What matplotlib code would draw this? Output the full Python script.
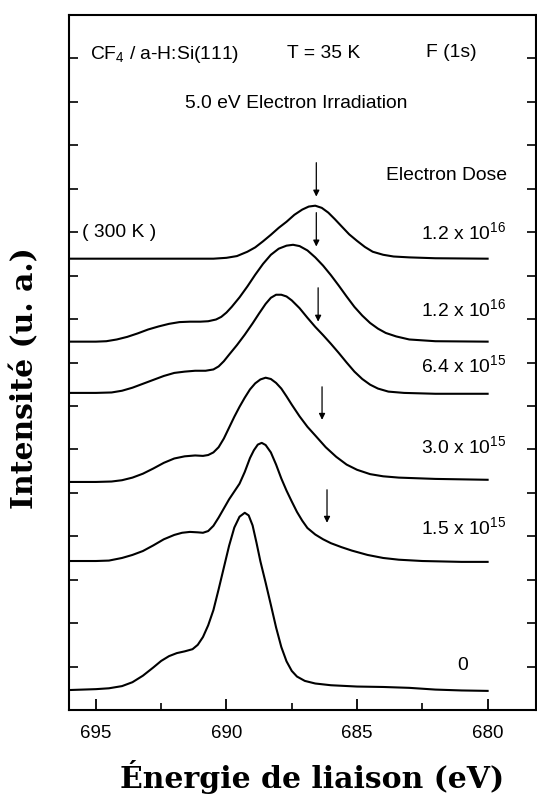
import numpy as np
import matplotlib
matplotlib.use("Agg")
import matplotlib.pyplot as plt

# ---- curves (binding energy eV, stacked intensity) ----
e_0 = [696.0, 695.5, 695.0, 694.5, 694.0, 693.6, 693.2, 692.8, 692.5, 692.2, 691.9, 691.6,
       691.3, 691.1, 690.9, 690.7, 690.5, 690.3, 690.1, 689.9, 689.7, 689.5, 689.3, 689.15,
       689.0, 688.85, 688.7, 688.5, 688.3, 688.1, 687.9, 687.7, 687.5, 687.3, 687.0, 686.6,
       686.0, 685.0, 684.0, 683.0, 682.0, 681.0, 680.0]
i_0 = [0.46, 0.47, 0.48, 0.50, 0.55, 0.64, 0.79, 0.98, 1.13, 1.24, 1.31, 1.35,
       1.40, 1.50, 1.68, 1.95, 2.30, 2.78, 3.28, 3.78, 4.20, 4.45, 4.54, 4.48,
       4.25, 3.85, 3.42, 2.93, 2.42, 1.90, 1.45, 1.12, 0.90, 0.77, 0.67, 0.61,
       0.57, 0.54, 0.53, 0.51, 0.47, 0.45, 0.44]

e_15e15 = [696.0, 695.0, 694.5, 694.0, 693.6, 693.2, 692.8, 692.4, 692.0, 691.7, 691.4, 691.1,
           690.9, 690.7, 690.5, 690.3, 690.1, 689.9, 689.7, 689.5, 689.3, 689.1, 688.95, 688.8,
           688.65, 688.5, 688.3, 688.1, 687.9, 687.7, 687.5, 687.3, 687.1, 686.9, 686.6, 686.3,
           686.0, 685.6, 685.2, 684.6, 684.0, 683.4, 682.5, 681.0, 680.0]
i_15e15 = [3.43, 3.43, 3.44, 3.50, 3.57, 3.66, 3.79, 3.93, 4.03, 4.08, 4.10, 4.09,
           4.08, 4.12, 4.24, 4.43, 4.64, 4.85, 5.03, 5.21, 5.48, 5.80, 5.98, 6.11,
           6.15, 6.10, 5.93, 5.65, 5.33, 5.05, 4.80, 4.56, 4.36, 4.19, 4.04, 3.93,
           3.84, 3.75, 3.67, 3.57, 3.50, 3.46, 3.43, 3.41, 3.41]

e_30e15 = [696.0, 695.0, 694.4, 694.0, 693.6, 693.2, 692.8, 692.4, 692.0, 691.6, 691.2, 690.9,
           690.7, 690.5, 690.3, 690.1, 689.9, 689.7, 689.5, 689.3, 689.1, 688.9, 688.7, 688.5,
           688.3, 688.1, 687.9, 687.7, 687.5, 687.2, 686.9, 686.6, 686.2, 685.8, 685.4, 685.0,
           684.5, 684.0, 683.4, 682.0, 680.0]
i_30e15 = [5.25, 5.25, 5.26, 5.29, 5.35, 5.44, 5.56, 5.69, 5.79, 5.84, 5.86, 5.85,
           5.87, 5.93, 6.05, 6.25, 6.50, 6.75, 6.98, 7.19, 7.38, 7.52, 7.61, 7.65,
           7.62, 7.53, 7.40, 7.22, 7.03, 6.76, 6.52, 6.32, 6.05, 5.83, 5.65, 5.53,
           5.43, 5.38, 5.35, 5.32, 5.30]

e_64e15 = [696.0, 695.0, 694.4, 694.0, 693.6, 693.2, 692.8, 692.4, 692.0, 691.6, 691.2, 690.8,
           690.5, 690.3, 690.1, 689.9, 689.6, 689.3, 689.0, 688.75, 688.5, 688.3, 688.1, 687.9,
           687.7, 687.5, 687.2, 686.9, 686.6, 686.3, 686.0, 685.7, 685.4, 685.1, 684.8, 684.5,
           684.2, 683.8, 683.2, 682.0, 680.0]
i_64e15 = [7.30, 7.30, 7.31, 7.35, 7.42, 7.51, 7.60, 7.69, 7.76, 7.79, 7.81, 7.81,
           7.84, 7.91, 8.03, 8.18, 8.40, 8.64, 8.90, 9.13, 9.35, 9.49, 9.56, 9.56,
           9.52, 9.43, 9.25, 9.03, 8.82, 8.63, 8.43, 8.22, 8.00, 7.79, 7.62, 7.49,
           7.40, 7.33, 7.30, 7.28, 7.28]

e_12e16 = [696.0, 695.0, 694.6, 694.2, 693.8, 693.4, 693.0, 692.6, 692.2, 691.8, 691.4, 691.0,
           690.7, 690.4, 690.2, 690.0, 689.8, 689.5, 689.2, 688.9, 688.6, 688.3, 688.0, 687.7,
           687.45, 687.2, 686.9, 686.6, 686.3, 686.0, 685.7, 685.4, 685.1, 684.8, 684.5, 684.2,
           683.9, 683.5, 683.0, 682.0, 680.0]
i_12e16 = [8.48, 8.48, 8.49, 8.53, 8.59, 8.67, 8.76, 8.83, 8.89, 8.93, 8.94, 8.94,
           8.95, 8.99, 9.05, 9.15, 9.28, 9.50, 9.75, 10.02, 10.27, 10.48, 10.62, 10.69,
           10.71, 10.68, 10.58, 10.42, 10.23, 10.01, 9.77, 9.52, 9.28, 9.08, 8.91, 8.78,
           8.68, 8.60, 8.53, 8.49, 8.48]

e_300k = [696.0, 693.0, 690.5, 690.0, 689.6, 689.2, 688.9, 688.6, 688.3, 688.0, 687.7, 687.4,
          687.1, 686.85, 686.6, 686.35, 686.1, 685.85, 685.6, 685.3, 685.0, 684.7, 684.4, 684.0,
          683.6, 683.0, 682.0, 680.0]
i_300k = [10.39, 10.39, 10.39, 10.41, 10.45, 10.55, 10.65, 10.79, 10.94, 11.10, 11.24, 11.40,
          11.52, 11.59, 11.61, 11.56, 11.45, 11.30, 11.14, 10.95, 10.80, 10.66, 10.55, 10.48,
          10.44, 10.42, 10.40, 10.39]

curves = [(e_0, i_0), (e_15e15, i_15e15), (e_30e15, i_30e15),
          (e_64e15, i_64e15), (e_12e16, i_12e16), (e_300k, i_300k)]

# arrows (energy, tail, tip)
arrow_e = [686.56, 686.56, 686.49, 686.34, 686.15]
arrow_tail = [12.60, 11.45, 9.72, 7.44, 5.07]
arrow_tip = [11.82, 10.67, 8.94, 6.68, 4.31]

dose_labels = [r"1.2 x 10$^{16}$", r"1.2 x 10$^{16}$", r"6.4 x 10$^{15}$",
               r"3.0 x 10$^{15}$", r"1.5 x 10$^{15}$"]
dose_y = [10.85, 9.06, 7.77, 5.92, 4.05]

x_major = [695, 690, 685, 680]
x_minor = [692.5, 687.5, 682.5]

plt.rcParams["mathtext.fontset"] = "custom"
plt.rcParams["mathtext.rm"] = "Liberation Sans"
plt.rcParams["mathtext.it"] = "Liberation Sans"
plt.rcParams["mathtext.bf"] = "Liberation Sans"

txt_font = ["Liberation Sans", "DejaVu Sans"]
txt_size = 13.9

fig = plt.figure(figsize=(5.37, 7.94), dpi=100)
ax = fig.add_axes([69 / 537, 1 - 710 / 794, (537 - 69) / 537 - 0.002, (710 - 15) / 794])

for e, inten in curves:
    ax.plot(e, inten, color="black", lw=1.5)

for xe, yt, yh in zip(arrow_e, arrow_tail, arrow_tip):
    ax.annotate("", xy=(xe, yh), xytext=(xe, yt),
                arrowprops=dict(arrowstyle="-|>", color="black", lw=0.9,
                                mutation_scale=9, shrinkA=0, shrinkB=0))

ax.set_xlim(696.03, 678.15)
ax.set_ylim(0, 16)

ax.set_xticks(x_major)
ax.set_xticks(x_minor, minor=True)
ax.set_xticklabels([str(v) for v in x_major], fontfamily="Liberation Sans", fontsize=13.5)
ax.set_yticks(np.arange(0, 17, 1))
ax.set_yticklabels([])
ax.tick_params(axis="x", which="major", direction="in", length=8, width=1.3, pad=11, top=False)
ax.tick_params(axis="x", which="minor", direction="in", length=5, width=1.2, top=False)
ax.tick_params(axis="y", which="major", direction="in", length=6.5, width=1.2, left=True, right=True)
for sp in ax.spines.values():
    sp.set_linewidth(1.5)

# annotations
ax.text(695.23, 14.98, r"CF$_{4}$ / a-H:Si(111)", family=txt_font, fontsize=txt_size)
ax.text(687.67, 15.0, "T = 35 K", family=txt_font, fontsize=txt_size)
ax.text(682.37, 15.03, "F (1s)", family=txt_font, fontsize=txt_size)
ax.text(691.6, 13.87, "5.0 eV Electron Irradiation", family=txt_font, fontsize=txt_size)
ax.text(683.89, 12.21, "Electron Dose", family=txt_font, fontsize=txt_size)
ax.text(695.53, 10.9, "( 300 K )", family=txt_font, fontsize=txt_size)
for lab, yy in zip(dose_labels, dose_y):
    ax.text(682.55, yy, lab, family=txt_font, fontsize=txt_size)
ax.text(680.95, 0.92, "0", family=txt_font, fontsize=txt_size, ha="center")

fig.text(312.5 / 537, 1 - 788 / 794, "Énergie de liaison (eV)", family="DejaVu Serif",
         fontweight="bold", fontsize=21.5, ha="center", va="baseline")
fig.text(25 / 537, 1 - 378 / 794, "Intensité (u. a.)", family="DejaVu Serif",
         fontweight="bold", fontsize=21.5, ha="center", va="center", rotation=90)

fig.savefig("out.png", dpi=100)
